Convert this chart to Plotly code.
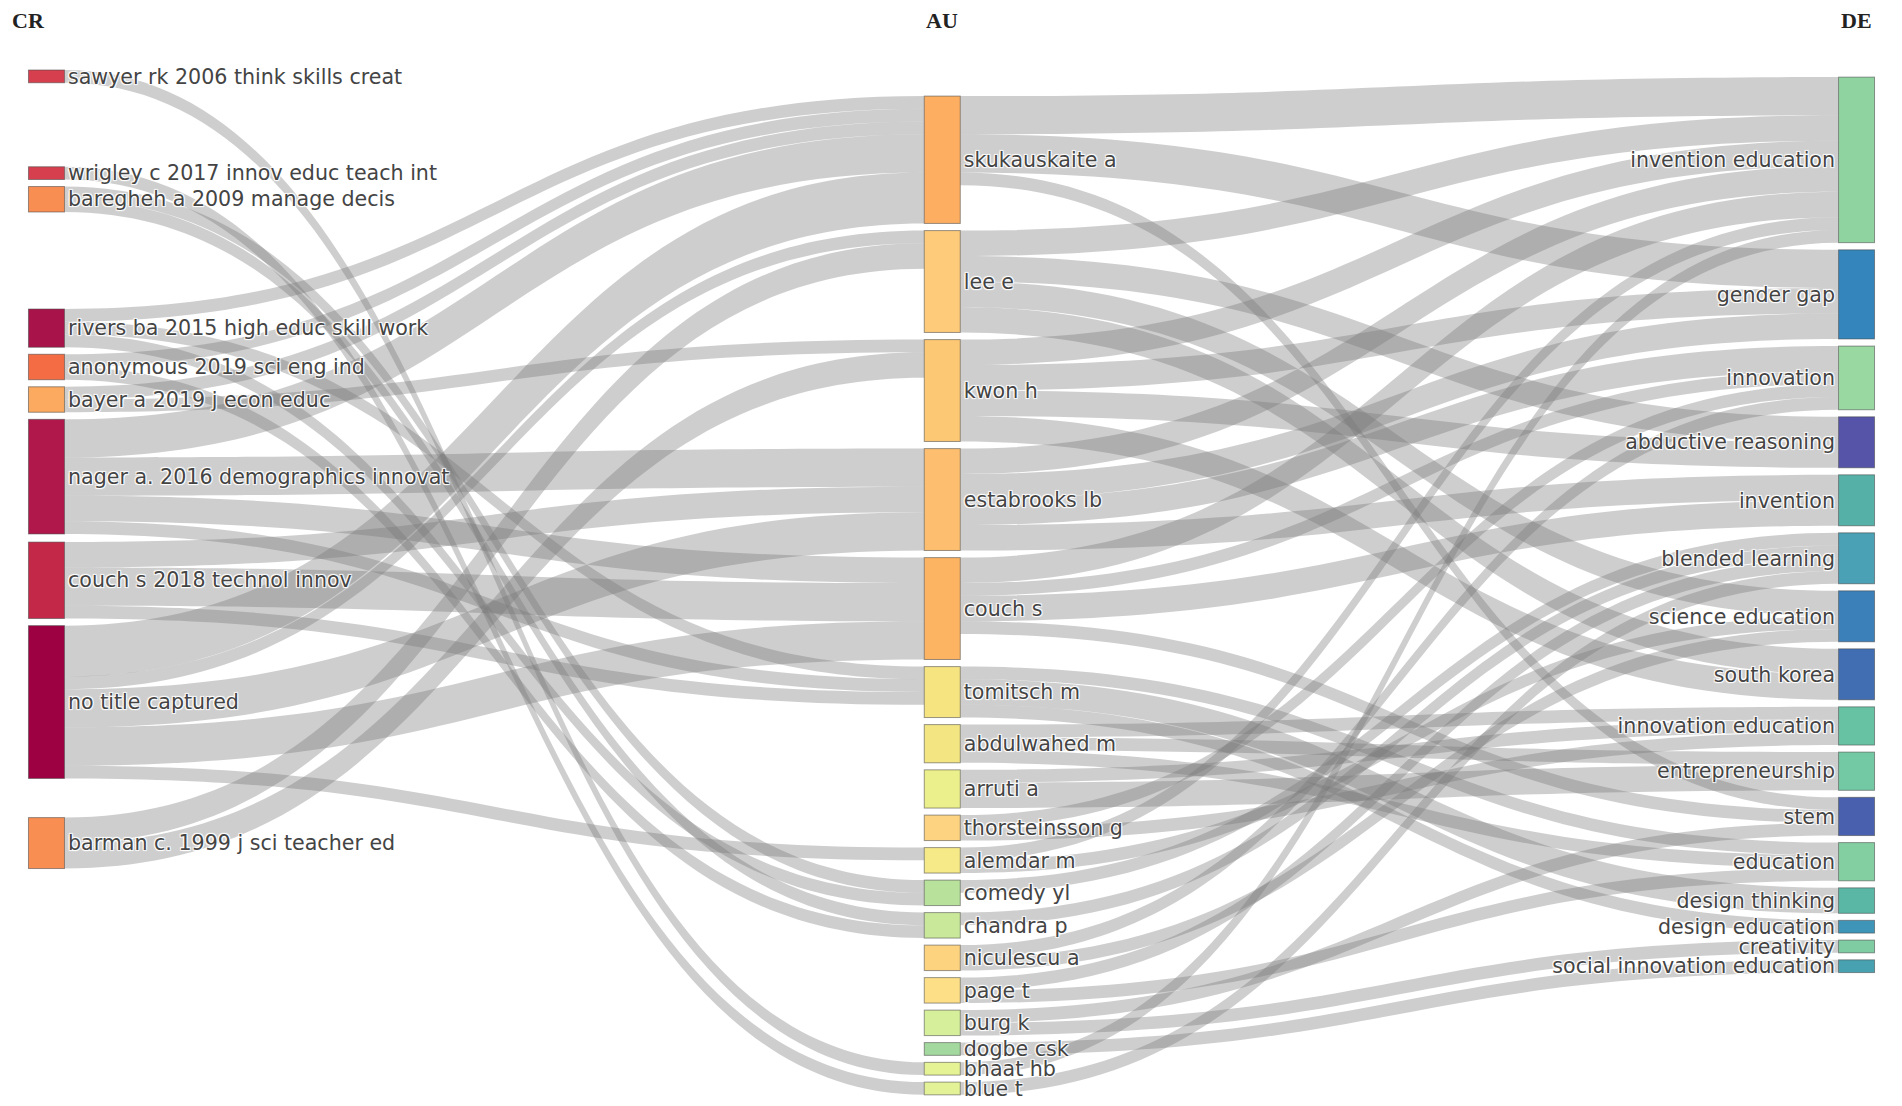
import plotly.graph_objects as go

# ---------------- data ----------------
cr_labels = ["sawyer rk 2006 think skills creat", "wrigley c 2017 innov educ teach int",
             "baregheh a 2009 manage decis", "rivers ba 2015 high educ skill work",
             "anonymous 2019 sci eng ind", "bayer a 2019 j econ educ",
             "nager a. 2016 demographics innovat", "couch s 2018 technol innov",
             "no title captured", "barman c. 1999 j sci teacher ed"]
au_labels = ["skukauskaite a", "lee e", "kwon h", "estabrooks lb", "couch s", "tomitsch m",
             "abdulwahed m", "arruti a", "thorsteinsson g", "alemdar m", "comedy yl",
             "chandra p", "niculescu a", "page t", "burg k", "dogbe csk", "bhaat hb", "blue t"]
de_labels = ["invention education", "gender gap", "innovation", "abductive reasoning",
             "invention", "blended learning", "science education", "south korea",
             "innovation education", "entrepreneurship", "stem", "education",
             "design thinking", "design education", "creativity", "social innovation education"]

# CR -> AU links
cr_au_src = ["sawyer rk 2006 think skills creat", "wrigley c 2017 innov educ teach int",
             "baregheh a 2009 manage decis", "baregheh a 2009 manage decis",
             "rivers ba 2015 high educ skill work", "rivers ba 2015 high educ skill work",
             "rivers ba 2015 high educ skill work",
             "anonymous 2019 sci eng ind", "anonymous 2019 sci eng ind",
             "bayer a 2019 j econ educ", "bayer a 2019 j econ educ",
             "nager a. 2016 demographics innovat", "nager a. 2016 demographics innovat",
             "nager a. 2016 demographics innovat", "nager a. 2016 demographics innovat",
             "couch s 2018 technol innov", "couch s 2018 technol innov", "couch s 2018 technol innov",
             "no title captured", "no title captured", "no title captured", "no title captured",
             "no title captured",
             "barman c. 1999 j sci teacher ed", "barman c. 1999 j sci teacher ed"]
cr_au_tgt = ["bhaat hb", "blue t",
             "comedy yl", "chandra p",
             "skukauskaite a", "tomitsch m", "comedy yl",
             "skukauskaite a", "chandra p",
             "skukauskaite a", "kwon h",
             "skukauskaite a", "estabrooks lb", "couch s", "tomitsch m",
             "estabrooks lb", "couch s", "tomitsch m",
             "skukauskaite a", "lee e", "estabrooks lb", "couch s", "alemdar m",
             "lee e", "kwon h"]
cr_au_val = [1, 1, 1, 1, 1, 1, 1, 1, 1, 1, 1, 3, 3, 2, 1, 2, 3, 1, 4, 1, 3, 3, 1, 2, 2]

# AU -> DE links
au_de_src = ["skukauskaite a"] * 3 + ["lee e"] * 4 + ["kwon h"] * 4 + ["estabrooks lb"] * 4 + \
            ["couch s"] * 4 + ["tomitsch m"] * 3 + ["abdulwahed m"] * 3 + ["arruti a"] * 2 + \
            ["thorsteinsson g"] * 2 + ["alemdar m"] * 2 + ["comedy yl", "chandra p"] + \
            ["niculescu a"] * 2 + ["page t"] * 2 + ["burg k"] * 2 + ["dogbe csk", "bhaat hb", "blue t"]
au_de_tgt = ["invention education", "gender gap", "stem",
             "invention education", "abductive reasoning", "science education", "south korea",
             "invention education", "gender gap", "abductive reasoning", "south korea",
             "invention education", "gender gap", "innovation", "invention",
             "invention education", "innovation", "invention", "stem",
             "design thinking", "education", "design education",
             "innovation education", "entrepreneurship", "education",
             "innovation education", "entrepreneurship",
             "innovation", "innovation education",
             "invention education", "science education",
             "blended learning", "blended learning",
             "innovation", "science education",
             "blended learning", "education",
             "creativity", "stem",
             "social innovation education", "invention education", "blended learning"]
au_de_val = [3, 3, 1,
             2, 2, 2, 2,
             2, 2, 2, 2,
             2, 2, 2, 2,
             2, 1, 2, 1,
             2, 1, 1,
             1, 1, 1,
             1, 2,
             1, 1,
             1, 1,
             1, 1,
             1, 1,
             1, 1,
             1, 1,
             1, 1, 1]

# ---------------- styles / layout ----------------
cr_colors = ["#d6404e", "#d6404e", "#f98e52", "#a8134a", "#f36c43", "#fcaa5f",
             "#b0174a", "#c42848", "#9e0142", "#f98e52"]
au_colors = ["#fdae61", "#fdcb7a", "#fdc874", "#fdbf6f", "#fdb462", "#f5e480", "#f3e582",
             "#ecf08c", "#fdd381", "#f5e988", "#b8e19b", "#c9e89a", "#fdd380", "#fddf88",
             "#d6ef9b", "#a3d89e", "#e6f395", "#e3f296"]
de_colors = ["#8fd3a0", "#3385bb", "#9ad8a2", "#5654a8", "#55b0a8", "#4aa0b5", "#3c80ba",
             "#416db2", "#67c2a3", "#73c9a4", "#4860ad", "#84cfa2", "#5ab7a5", "#3f95b8",
             "#7fcca3", "#48a1b0"]
cr_extra_gap = [0, 77, 0, 90, 0, 0, 0, 1, 0, 32]   # extra spacing (px) before each CR node

# page body has an 8px margin, so the figure is drawn 8px in from the window edge
FIG_W, FIG_H = 1886, 1098
M_T, M_B, M_L, M_R = 88, 12, 20, 19
PAD = 13.9        # node.pad handed to plotly (sets the value scale)
GAP = 7           # visible gap between stacked nodes
THICK = 36
col_x = [0.01, 0.495, 0.99]
col_top = [62, 88, 69]

# ---------------- build ----------------
labels = cr_labels + au_labels + de_labels
idx = {l: i for i, l in enumerate(labels)}
src = [idx[s] for s in cr_au_src + au_de_src]
tgt = [idx[t] for t in cr_au_tgt + au_de_tgt]
val = cr_au_val + au_de_val

inflow = [0] * len(labels)
outflow = [0] * len(labels)
for s, t, v in zip(src, tgt, val):
    outflow[s] += v
    inflow[t] += v
node_val = [max(a, b) for a, b in zip(inflow, outflow)]

H = FIG_H - M_T - M_B
columns = [cr_labels, au_labels, de_labels]
ky = min((H - (len(c) - 1) * PAD / 2) / sum(node_val[idx[l]] for l in c) for c in columns)

xs = [0.0] * len(labels)
ys = [0.0] * len(labels)
for ci, col in enumerate(columns):
    y = col_top[ci]
    for k, l in enumerate(col):
        i = idx[l]
        if ci == 0:
            y += cr_extra_gap[k]
        h = node_val[i] * ky
        xs[i] = col_x[ci]
        ys[i] = (y + h / 2 - M_T) / H
        y += h + GAP

fig = go.Figure(go.Sankey(
    arrangement="fixed",
    node=dict(label=labels, x=xs, y=ys, pad=PAD, thickness=THICK,
              color=cr_colors + au_colors + de_colors,
              line=dict(color="rgba(70,70,70,0.55)", width=1)),
    link=dict(source=src, target=tgt, value=val, color="rgba(120,120,120,0.36)"),
    textfont=dict(family="DejaVu Sans", size=20.6, color="#444"),
))

for name, xx in zip(["CR", "AU", "DE"], [0.0, col_x[1], col_x[2]]):
    fig.add_annotation(text="<b>" + name + "</b>", x=xx, y=1 + (M_T - 1) / H,
                       xref="paper", yref="paper", showarrow=False,
                       xanchor="center", yanchor="top", yshift=3,
                       font=dict(family="Liberation Serif", size=22, color="#222"))

fig.update_layout(width=FIG_W, height=FIG_H, paper_bgcolor="white",
                  margin=dict(t=M_T, b=M_B, l=M_L, r=M_R))
fig.write_html("out.html")
